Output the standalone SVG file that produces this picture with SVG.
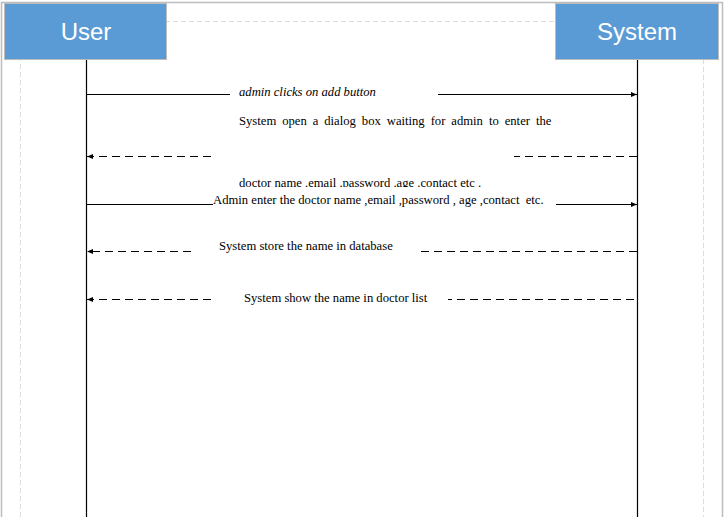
<svg xmlns="http://www.w3.org/2000/svg" width="728" height="517" viewBox="0 0 728 517">
<style>
.frame{fill:none;stroke:#bdbdbd;stroke-width:1.5}
.guide{fill:none;stroke:#dcdcdc;stroke-width:1;stroke-dasharray:5 3}
.head{fill:#5b9bd5;stroke:#bdbdbd;stroke-width:1}
.htxt{font-family:"Liberation Sans",Arial,sans-serif;font-size:24px;fill:#ffffff;text-anchor:middle}
.life{stroke:#000;stroke-width:1.2;fill:none}
.msg{stroke:#000;stroke-width:1;fill:none}
.ret{stroke:#000;stroke-width:1;fill:none;stroke-dasharray:8 5}
.lbl{font-family:"Liberation Serif","Times New Roman",serif;font-size:12.65px;fill:#000}
</style>
<defs>
<marker id="ah" markerWidth="6" markerHeight="6" refX="6" refY="3" orient="auto" markerUnits="userSpaceOnUse">
<path d="M0,0.5 L6,3 L0,5.5 Z" fill="#000"/>
</marker>
<clipPath id="clipDoc"><rect x="200" y="170" width="320" height="17"/></clipPath>
</defs>
<rect width="728" height="517" fill="#ffffff"/>
<path class="frame" d="M1.5,517 V2.5 H722.5 V517"/>
<path class="guide" d="M20.5,517 V21.5 H703.5 V517"/>
<g id="connectors">
<line class="life" x1="86.5" y1="60" x2="86.5" y2="517"/>
<line class="life" x1="637.5" y1="60" x2="637.5" y2="517"/>
<line class="msg" x1="86.5" y1="94.5" x2="230" y2="94.5"/>
<line class="msg" x1="438" y1="94.5" x2="637" y2="94.5" marker-end="url(#ah)"/>
<line class="ret" x1="637" y1="156.5" x2="514" y2="156.5"/>
<line class="ret" x1="211" y1="156.5" x2="87" y2="156.5" marker-end="url(#ah)"/>
<line class="msg" x1="86.5" y1="204.5" x2="213" y2="204.5"/>
<line class="msg" x1="556" y1="204.5" x2="637" y2="204.5" marker-end="url(#ah)"/>
<line class="ret" x1="637" y1="251.5" x2="419" y2="251.5"/>
<line class="ret" x1="191" y1="251.5" x2="87" y2="251.5" marker-end="url(#ah)"/>
<line class="ret" x1="634" y1="299.5" x2="448" y2="299.5"/>
<line class="ret" x1="211" y1="299.5" x2="87" y2="299.5" marker-end="url(#ah)"/>
</g>
<g id="user">
<rect class="head" x="4.5" y="3.5" width="162" height="56"/>
<text class="htxt" x="86" y="40">User</text>
</g>
<g id="system">
<rect class="head" x="555.5" y="3.5" width="163" height="56"/>
<text class="htxt" x="637" y="40">System</text>
</g>
<g id="labels">
<text class="lbl" x="239" y="96" font-style="italic">admin clicks on add button</text>
<text class="lbl" x="239" y="125" word-spacing="2.8">System open a dialog box waiting for admin to enter the</text>
<text class="lbl" x="239" y="187" clip-path="url(#clipDoc)">doctor name .email .password .age .contact etc .</text>
<text class="lbl" x="213" y="204" xml:space="preserve">Admin enter the doctor name ,email ,password , age ,contact  etc.</text>
<text class="lbl" x="219" y="250">System store the name in database</text>
<text class="lbl" x="244" y="302">System show the name in doctor list</text>
</g>
</svg>
